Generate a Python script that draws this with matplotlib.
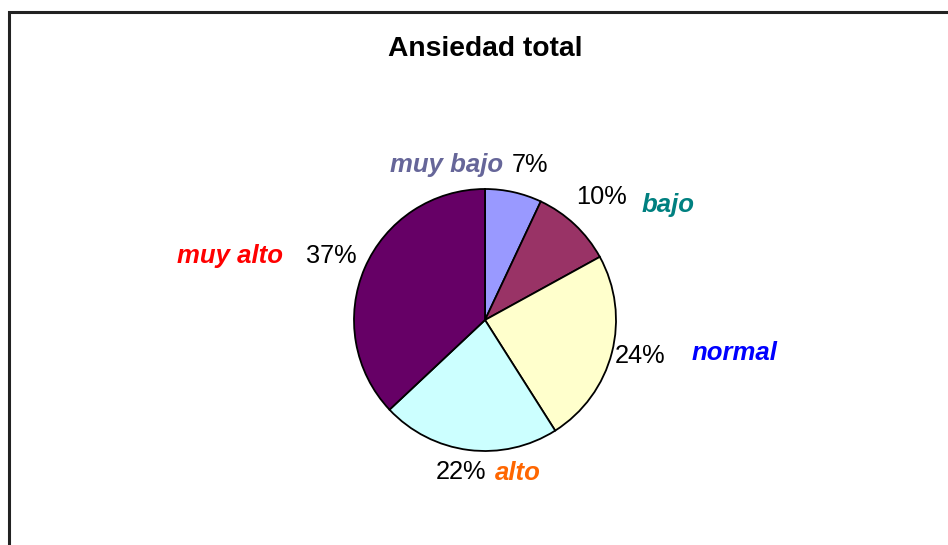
import matplotlib
matplotlib.use("Agg")
import matplotlib.pyplot as plt
from matplotlib.patches import Rectangle

plt.rcParams['font.family'] = ['Liberation Sans', 'DejaVu Sans']

categories = ["muy bajo", "bajo", "normal", "alto", "muy alto"]
values = [7, 10, 24, 22, 37]
pct_labels = ["7%", "10%", "24%", "22%", "37%"]
slice_colors = ["#9999FF", "#993366", "#FFFFCC", "#CCFFFF", "#660066"]
label_colors = ["#666699", "#008080", "#0000FF", "#FF6600", "#FF0000"]

W, H = 948, 545
fig = plt.figure(figsize=(W / 100, H / 100), dpi=100)
fig.patch.set_facecolor("white")

# chart frame
fig.add_artist(Rectangle((9 / W, -0.05), 1.2, (H - 12) / H + 0.05, transform=fig.transFigure,
                         fill=False, edgecolor="#222222", linewidth=2.2))

cx, cy, r = 485, 320, 131
ax = fig.add_axes([(cx - r) / W, (H - cy - r) / H, 2 * r / W, 2 * r / H])
ax.pie(values, colors=slice_colors, startangle=90, counterclock=False, radius=1,
       wedgeprops=dict(edgecolor="black", linewidth=1.3))
ax.set_xlim(-1, 1)
ax.set_ylim(-1, 1)
ax.set_aspect("equal")
ax.axis("off")

fig.text(485 / W, 1 - 49 / H, "Ansiedad total", ha="center", va="center",
         fontsize=20.3, fontweight="bold")

def P(px, py):
    return ((px - cx) / r, (cy - py) / r)

name_pos = [(447, 165), (668, 205), (734, 353), (518, 473), (230, 256)]
pct_pos = [(530, 165), (601, 197), (640, 356), (461, 472), (331, 256)]

for i in range(len(categories)):
    x, y = P(*name_pos[i])
    ax.text(x, y, categories[i], ha="center", va="center", fontsize=18.5,
            fontweight="bold", fontstyle="italic", color=label_colors[i], clip_on=False)
    x, y = P(*pct_pos[i])
    ax.text(x, y, pct_labels[i], ha="center", va="center", fontsize=18.3,
            color="black", clip_on=False)

fig.savefig("out.png", dpi=100)
